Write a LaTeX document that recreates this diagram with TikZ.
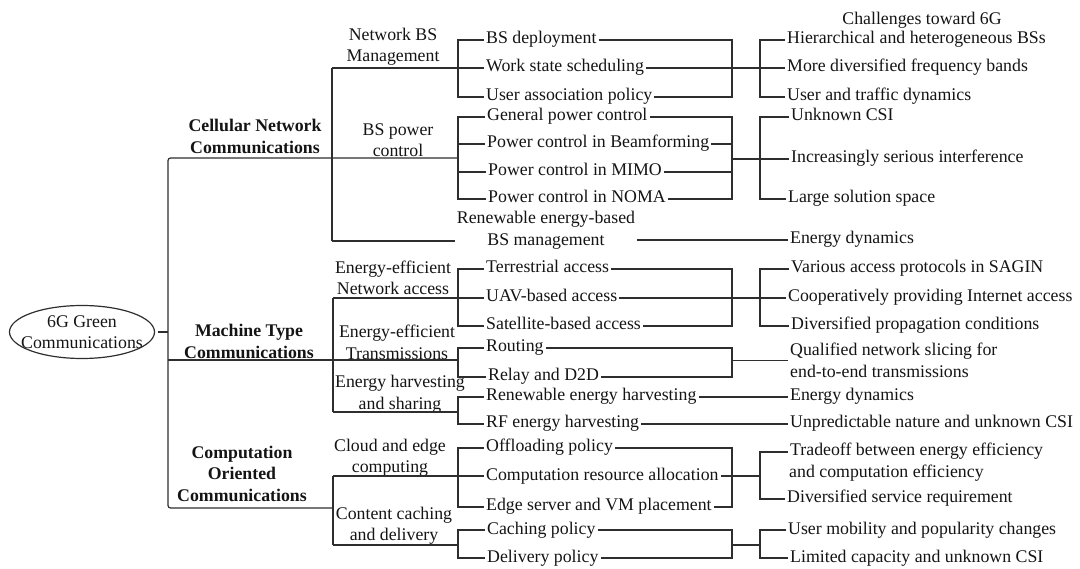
\documentclass[tikz,border=0pt]{standalone}
\usepackage{fontspec}
\setmainfont{Liberation Serif}
\usetikzlibrary{calc}
\begin{document}
\begin{tikzpicture}[x=1pt,y=-1pt,
  every node/.style={font=\fontsize{17.8}{21.5}\selectfont, inner sep=2pt, text=black!92},
  wire/.style={line width=1.2pt, draw=black!82},
  leaf/.style={anchor=west, text height=12pt, text depth=4pt},
  group/.style={align=center},
  topic/.style={align=center, font=\fontsize{17.8}{21.5}\selectfont\bfseries},
  twoline/.style={anchor=west, align=left},
]
\useasboundingbox (0,0) rectangle (1080,569);

% ---------- root ----------
\node[minimum width=145pt, minimum height=53pt, inner sep=0pt, align=center] (root) at (82,332) {6G Green\\Communications};
\draw[wire] (root.center) ellipse [x radius=72.5pt, y radius=26.5pt];

% ---------- first level ----------
\node[topic] (cnc) at (255,136.5) {Cellular Network\\Communications};
\node[topic] (mtc) at (249,341.5) {Machine Type\\Communications};
\node[topic] (coc) at (242,473.5) {Computation\\Oriented\\Communications};

% ---------- second level ----------
\node[group] (nbm)  at (393,46.5)  {Network BS\\Management};
\node[group] (bpc)  at (398,140)   {BS power\\control};
\node[group] (rebm) at (546,230)   {Renewable energy-based\\BS management};
\node[group] (ena)  at (393,278)   {Energy-efficient\\Network access};
\node[group] (eet)  at (397,342.5) {Energy-efficient\\Transmissions};
\node[group] (ehs)  at (400,394)   {Energy harvesting\\and sharing};
\node[group] (cec)  at (390,457.5) {Cloud and edge\\computing};
\node[group] (ccd)  at (394,525.5) {Content caching\\and delivery};

% ---------- approaches ----------
\node[leaf] (bsd) at (484,40)  {BS deployment};
\node[leaf] (wss) at (484,68)  {Work state scheduling};
\node[leaf] (uap) at (484,97)  {User association policy};
\node[leaf] (gpc) at (485,117) {General power control};
\node[leaf] (pcb) at (485,144) {Power control in Beamforming};
\node[leaf] (pcm) at (486,172) {Power control in MIMO};
\node[leaf] (pcn) at (486,199) {Power control in NOMA};
\node[leaf] (ta)  at (484,269) {Terrestrial access};
\node[leaf] (uav) at (484,298) {UAV-based access};
\node[leaf] (sat) at (484,326) {Satellite-based access};
\node[leaf] (rt)  at (484,348) {Routing};
\node[leaf] (rd)  at (486,377) {Relay and D2D};
\node[leaf] (reh) at (484,397) {Renewable energy harvesting};
\node[leaf] (rfh) at (484,424) {RF energy harvesting};
\node[leaf] (op)  at (484,448) {Offloading policy};
\node[leaf] (cra) at (484,476) {Computation resource allocation};
\node[leaf] (esv) at (484,507) {Edge server and VM placement};
\node[leaf] (cp)  at (485,530) {Caching policy};
\node[leaf] (dp)  at (485,558) {Delivery policy};

% ---------- challenges ----------
\node (hdr) at (922,20.5) {Challenges toward 6G};
\node[leaf] (hh)  at (785,40)  {Hierarchical and heterogeneous BSs};
\node[leaf] (md)  at (785,68)  {More diversified frequency bands};
\node[leaf] (ut)  at (785,97)  {User and traffic dynamics};
\node[leaf] (uc)  at (789,117) {Unknown CSI};
\node[leaf] (isi) at (789,159) {Increasingly serious interference};
\node[leaf] (lss) at (786,199) {Large solution space};
\node[leaf] (ed1) at (788,240) {Energy dynamics};
\node[leaf] (vap) at (789,269) {Various access protocols in SAGIN};
\node[leaf] (cpi) at (786,298) {Cooperatively providing Internet access};
\node[leaf] (dpc) at (789,326) {Diversified propagation conditions};
\node[twoline] (qns) at (788,360.5) {Qualified network slicing for\\end-to-end transmissions};
\node[leaf] (ed2) at (788,397) {Energy dynamics};
\node[leaf] (unp) at (788,424) {Unpredictable nature and unknown CSI};
\node[leaf] (tr)  at (788,452) {Tradeoff between energy efficiency};
\node[leaf] (tr2) at (787,474) {and computation efficiency};
\node[leaf] (dsr) at (785,499) {Diversified service requirement};
\node[leaf] (ump) at (786,530) {User mobility and popularity changes};
\node[leaf] (lcc) at (788,558) {Limited capacity and unknown CSI};

% ---------- bracket columns ----------
\coordinate (xl) at (458,0);
\coordinate (xr) at (732,0);
\coordinate (xc) at (760,0);
\coordinate (trunk) at (168,332);
\coordinate (t1) at (168,158);
\coordinate (t2) at (168,360);
\coordinate (t3) at (168,508);
\coordinate (c3) at (333,508);
\coordinate (v1top) at (332,68);
\coordinate (v1bot) at (332,241);
\coordinate (v2top) at (333,298);
\coordinate (v2bot) at (333,412);
\coordinate (v3top) at (333,476);
\coordinate (v3bot) at (333,545);

% ---------- trunk ----------
\draw[wire, shorten <=3pt] (root.east) -- (trunk);
\draw[wire, rounded corners=2.5pt] (t1 -| xl) -- (t1) -- (t3) -- (c3);
\draw[wire] (t2) -- (t2 -| xl);

% ---------- cellular network ----------
\draw[wire] (v1top) -- (v1bot);
\draw[wire] (v1top) -- (wss.west);
\draw[wire] (v1bot) -- (v1bot -| rebm.west);
% BS management
\draw[wire] (bsd.west) -- (bsd.west -| xl) -- (uap.west -| xl) -- (uap.west);
\draw[wire] (bsd.east) -- (bsd.east -| xr) -- (uap.east -| xr) -- (uap.east);
\draw[wire] (wss.east) -- (md.west);
\draw[wire] (hh.west) -- (hh.west -| xc) -- (ut.west -| xc) -- (ut.west);
% BS power control
\draw[wire] (gpc.west) -- (gpc.west -| xl) -- (pcn.west -| xl) -- (pcn.west);
\draw[wire] (pcb.west -| xl) -- (pcb.west);
\draw[wire] (pcm.west -| xl) -- (pcm.west);
\draw[wire] (gpc.east) -- (gpc.east -| xr) -- (pcn.east -| xr) -- (pcn.east);
\draw[wire] (pcb.east) -- (pcb.east -| xr);
\draw[wire] (pcm.east) -- (pcm.east -| xr);
\draw[wire] (isi.west -| xr) -- (isi.west);
\draw[wire] (uc.west) -- (uc.west -| xc) -- (lss.west -| xc) -- (lss.west);
% renewable energy-based BS management
\draw[wire] (ed1.west -| rebm.east) -- (ed1.west);

% ---------- machine type ----------
\draw[wire] (v2top) -- (v2bot);
\draw[wire] (v2top) -- (uav.west);
\draw[wire] (v2bot) -- (v2bot -| xl);
% network access
\draw[wire] (ta.west) -- (ta.west -| xl) -- (sat.west -| xl) -- (sat.west);
\draw[wire] (ta.east) -- (ta.east -| xr) -- (sat.east -| xr) -- (sat.east);
\draw[wire] (uav.east) -- (cpi.west);
\draw[wire] (vap.west) -- (vap.west -| xc) -- (dpc.west -| xc) -- (dpc.west);
% transmissions
\draw[wire] (rt.west) -- (rt.west -| xl) -- (rd.west -| xl) -- (rd.west);
\draw[wire] (rt.east) -- (rt.east -| xr) -- (rd.east -| xr) -- (rd.east);
\draw[wire] (qns.west -| xr) -- (qns.west);
% energy harvesting
\draw[wire] (reh.west) -- (reh.west -| xl) -- (rfh.west -| xl) -- (rfh.west);
\draw[wire] (reh.east) -- (ed2.west);
\draw[wire] (rfh.east) -- (unp.west);

% ---------- computation oriented ----------
\draw[wire] (v3top) -- (v3bot);
\draw[wire] (v3top) -- (cra.west);
\draw[wire] (v3bot) -- (v3bot -| xl);
% cloud and edge computing
\draw[wire] (op.west) -- (op.west -| xl) -- (esv.west -| xl) -- (esv.west);
\draw[wire] (op.east) -- (op.east -| xr) -- (esv.east -| xr) -- (esv.east);
\draw[wire] (cra.east) -- (cra.east -| xc);
\draw[wire] (tr.west) -- (tr.west -| xc) -- (dsr.west -| xc) -- (dsr.west);
% content caching and delivery
\draw[wire] (cp.west) -- (cp.west -| xl) -- (dp.west -| xl) -- (dp.west);
\draw[wire] (cp.east) -- (cp.east -| xr) -- (dp.east -| xr) -- (dp.east);
\draw[wire] (v3bot -| xr) -- (v3bot -| xc);
\draw[wire] (ump.west) -- (ump.west -| xc) -- (lcc.west -| xc) -- (lcc.west);
\end{tikzpicture}
\end{document}
